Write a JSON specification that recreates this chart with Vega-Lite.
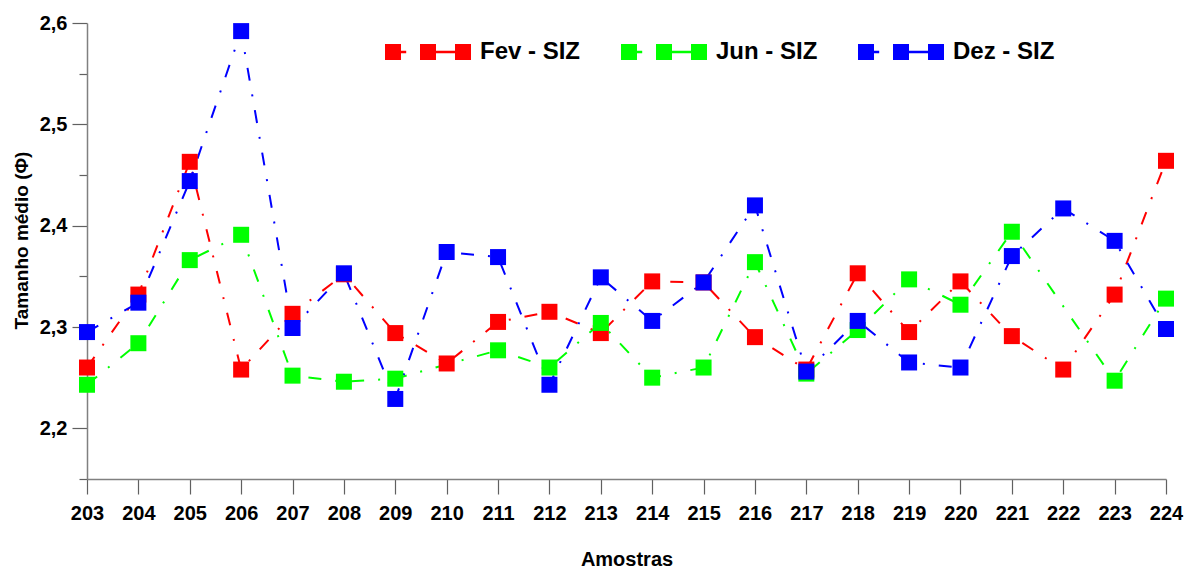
{
  "$schema": "https://vega.github.io/schema/vega-lite/v6.json",
  "width": 1079,
  "height": 456,
  "autosize": "none",
  "padding": {"left": 87, "top": 23, "right": 28, "bottom": 92},
  "background": "white",
  "config": {
    "font": "Liberation Sans",
    "view": {"stroke": null},
    "axis": {
      "grid": false,
      "domainColor": "#808080",
      "domainWidth": 1.5,
      "tickColor": "#606060",
      "tickWidth": 1.2,
      "labelFont": "Liberation Sans",
      "labelFontWeight": "bold",
      "labelFontSize": 20,
      "labelColor": "black",
      "titleFont": "Liberation Sans",
      "titleFontWeight": "bold",
      "titleColor": "black"
    }
  },
  "data": {
    "values": [
      {"amostra": 203, "serie": "Fev - SIZ", "tamanho": 2.260},
      {"amostra": 204, "serie": "Fev - SIZ", "tamanho": 2.332},
      {"amostra": 205, "serie": "Fev - SIZ", "tamanho": 2.463},
      {"amostra": 206, "serie": "Fev - SIZ", "tamanho": 2.258},
      {"amostra": 207, "serie": "Fev - SIZ", "tamanho": 2.313},
      {"amostra": 208, "serie": "Fev - SIZ", "tamanho": 2.352},
      {"amostra": 209, "serie": "Fev - SIZ", "tamanho": 2.294},
      {"amostra": 210, "serie": "Fev - SIZ", "tamanho": 2.264},
      {"amostra": 211, "serie": "Fev - SIZ", "tamanho": 2.305},
      {"amostra": 212, "serie": "Fev - SIZ", "tamanho": 2.315},
      {"amostra": 213, "serie": "Fev - SIZ", "tamanho": 2.294},
      {"amostra": 214, "serie": "Fev - SIZ", "tamanho": 2.345},
      {"amostra": 215, "serie": "Fev - SIZ", "tamanho": 2.344},
      {"amostra": 216, "serie": "Fev - SIZ", "tamanho": 2.290},
      {"amostra": 217, "serie": "Fev - SIZ", "tamanho": 2.258},
      {"amostra": 218, "serie": "Fev - SIZ", "tamanho": 2.353},
      {"amostra": 219, "serie": "Fev - SIZ", "tamanho": 2.295},
      {"amostra": 220, "serie": "Fev - SIZ", "tamanho": 2.345},
      {"amostra": 221, "serie": "Fev - SIZ", "tamanho": 2.291},
      {"amostra": 222, "serie": "Fev - SIZ", "tamanho": 2.258},
      {"amostra": 223, "serie": "Fev - SIZ", "tamanho": 2.332},
      {"amostra": 224, "serie": "Fev - SIZ", "tamanho": 2.464},
      {"amostra": 203, "serie": "Jun - SIZ", "tamanho": 2.243},
      {"amostra": 204, "serie": "Jun - SIZ", "tamanho": 2.284},
      {"amostra": 205, "serie": "Jun - SIZ", "tamanho": 2.366},
      {"amostra": 206, "serie": "Jun - SIZ", "tamanho": 2.391},
      {"amostra": 207, "serie": "Jun - SIZ", "tamanho": 2.252},
      {"amostra": 208, "serie": "Jun - SIZ", "tamanho": 2.246},
      {"amostra": 209, "serie": "Jun - SIZ", "tamanho": 2.249},
      {"amostra": 211, "serie": "Jun - SIZ", "tamanho": 2.277},
      {"amostra": 212, "serie": "Jun - SIZ", "tamanho": 2.260},
      {"amostra": 213, "serie": "Jun - SIZ", "tamanho": 2.304},
      {"amostra": 214, "serie": "Jun - SIZ", "tamanho": 2.250},
      {"amostra": 215, "serie": "Jun - SIZ", "tamanho": 2.260},
      {"amostra": 216, "serie": "Jun - SIZ", "tamanho": 2.364},
      {"amostra": 217, "serie": "Jun - SIZ", "tamanho": 2.254},
      {"amostra": 218, "serie": "Jun - SIZ", "tamanho": 2.297},
      {"amostra": 219, "serie": "Jun - SIZ", "tamanho": 2.347},
      {"amostra": 220, "serie": "Jun - SIZ", "tamanho": 2.322},
      {"amostra": 221, "serie": "Jun - SIZ", "tamanho": 2.394},
      {"amostra": 223, "serie": "Jun - SIZ", "tamanho": 2.247},
      {"amostra": 224, "serie": "Jun - SIZ", "tamanho": 2.328},
      {"amostra": 203, "serie": "Dez - SIZ", "tamanho": 2.295},
      {"amostra": 204, "serie": "Dez - SIZ", "tamanho": 2.324},
      {"amostra": 205, "serie": "Dez - SIZ", "tamanho": 2.444},
      {"amostra": 206, "serie": "Dez - SIZ", "tamanho": 2.592},
      {"amostra": 207, "serie": "Dez - SIZ", "tamanho": 2.299},
      {"amostra": 208, "serie": "Dez - SIZ", "tamanho": 2.353},
      {"amostra": 209, "serie": "Dez - SIZ", "tamanho": 2.229},
      {"amostra": 210, "serie": "Dez - SIZ", "tamanho": 2.374},
      {"amostra": 211, "serie": "Dez - SIZ", "tamanho": 2.369},
      {"amostra": 212, "serie": "Dez - SIZ", "tamanho": 2.243},
      {"amostra": 213, "serie": "Dez - SIZ", "tamanho": 2.349},
      {"amostra": 214, "serie": "Dez - SIZ", "tamanho": 2.306},
      {"amostra": 215, "serie": "Dez - SIZ", "tamanho": 2.344},
      {"amostra": 216, "serie": "Dez - SIZ", "tamanho": 2.420},
      {"amostra": 217, "serie": "Dez - SIZ", "tamanho": 2.256},
      {"amostra": 218, "serie": "Dez - SIZ", "tamanho": 2.306},
      {"amostra": 219, "serie": "Dez - SIZ", "tamanho": 2.265},
      {"amostra": 220, "serie": "Dez - SIZ", "tamanho": 2.260},
      {"amostra": 221, "serie": "Dez - SIZ", "tamanho": 2.370},
      {"amostra": 222, "serie": "Dez - SIZ", "tamanho": 2.417},
      {"amostra": 223, "serie": "Dez - SIZ", "tamanho": 2.385},
      {"amostra": 224, "serie": "Dez - SIZ", "tamanho": 2.298}
    ]
  },
  "encoding": {
    "x": {
      "field": "amostra",
      "type": "quantitative",
      "scale": {"domain": [203, 224], "nice": false, "zero": false},
      "axis": {
        "values": [203,204,205,206,207,208,209,210,211,212,213,214,215,216,217,218,219,220,221,222,223,224],
        "format": "d",
        "tickSize": 15,
        "labelPadding": 9,
        "labelFlush": false,
        "labelOverlap": false,
        "title": "Amostras",
        "titleFontSize": 20,
        "titleBaseline": "alphabetic",
        "titleY": 86
      }
    },
    "y": {
      "field": "tamanho",
      "type": "quantitative",
      "scale": {"domain": [2.15, 2.6], "nice": false, "zero": false},
      "axis": {
        "values": [2.15, 2.2, 2.25, 2.3, 2.35, 2.4, 2.45, 2.5, 2.55, 2.6],
        "labelExpr": "abs(datum.value*10 - round(datum.value*10)) < 0.01 ? replace(format(datum.value, '.1f'), '.', ',') : ''",
        "tickSize": {"condition": {"test": "abs(datum.value*10 - round(datum.value*10)) < 0.01", "value": 15}, "value": 8},
        "labelPadding": 5,
        "labelFlush": false,
        "labelOverlap": false,
        "title": "Tamanho médio (Φ)",
        "titleFontSize": 19,
        "titleBaseline": "middle",
        "titleX": -66,
        "titleY": 217
      }
    }
  },
  "layer": [
    {
      "mark": {"type": "line", "strokeWidth": 2, "strokeDash": [13, 14, 2, 14], "clip": false},
      "encoding": {
        "color": {
          "field": "serie",
          "type": "nominal",
          "sort": ["Fev - SIZ", "Jun - SIZ", "Dez - SIZ"],
          "scale": {"domain": ["Fev - SIZ", "Jun - SIZ", "Dez - SIZ"], "range": ["#ff0000", "#00ff00", "#0000ff"]},
          "legend": null
        }
      }
    },
    {
      "mark": {"type": "point", "shape": "square", "filled": true, "size": 256, "opacity": 1, "clip": false},
      "encoding": {
        "color": {
          "field": "serie",
          "type": "nominal",
          "sort": ["Fev - SIZ", "Jun - SIZ", "Dez - SIZ"],
          "scale": {"domain": ["Fev - SIZ", "Jun - SIZ", "Dez - SIZ"], "range": ["#ff0000", "#00ff00", "#0000ff"]},
          "legend": {
            "orient": "none",
            "legendX": 364,
            "legendY": 17,
            "direction": "horizontal",
            "title": null,
            "symbolType": "M-9.75,-1H-7.75V1H-9.75Z M-7.75,-0.15H-7.1V0.15H-7.75Z M-5.375,-1H-3.375V1H-5.375Z M-3.375,-0.15H-1V0.15H-3.375Z M-1,-1H1V1H-1Z",
            "symbolSize": 256,
            "symbolStrokeWidth": 0,
            "symbolOpacity": 1,
            "labelFont": "Liberation Sans",
            "labelFontSize": 24,
            "labelFontWeight": "bold",
            "labelColor": "black",
            "labelOffset": 5,
            "columnPadding": 40,
            "labelLimit": 300
          }
        }
      }
    }
  ],
  "resolve": {"legend": {"color": "independent"}}
}
